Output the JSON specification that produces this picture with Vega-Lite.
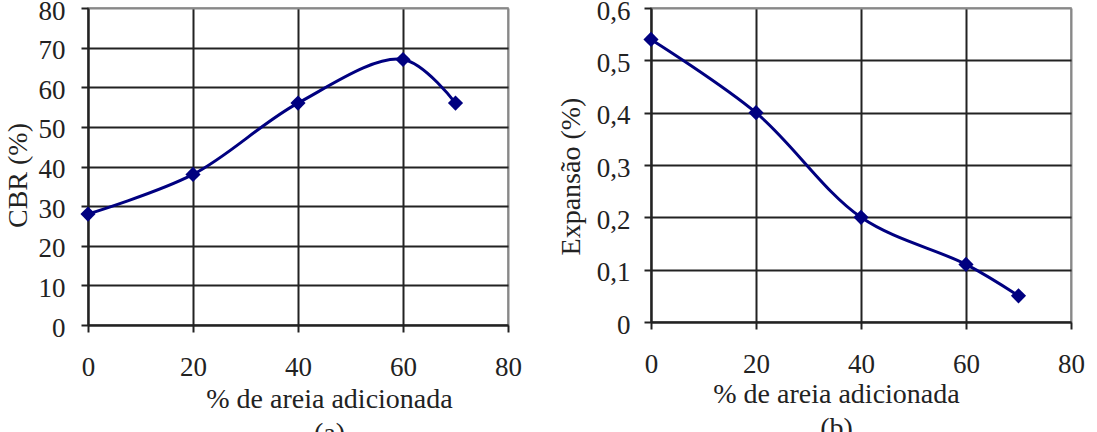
{
  "$schema": "https://vega.github.io/schema/vega-lite/v6.json",
  "background": "white",
  "padding": {"left": 3, "top": -4, "right": 0, "bottom": 0},
  "config": {
    "font": "Liberation Serif",
    "view": {"stroke": "#888888", "strokeWidth": 1.5},
    "axis": {
      "labelFont": "Liberation Serif",
      "titleFont": "Liberation Serif",
      "labelFontSize": 27,
      "titleFontSize": 28,
      "labelColor": "#222222",
      "titleColor": "#222222",
      "titleFontWeight": "normal",
      "domainColor": "#222222",
      "domainWidth": 2,
      "tickColor": "#222222",
      "tickWidth": 2,
      "tickSize": 7,
      "grid": true,
      "gridWidth": 2,
      "gridOpacity": 1
    }
  },
  "spacing": 33,
  "hconcat": [
    {
      "width": 420,
      "height": 317,
      "data": {"values": [
        {"areia": 0, "cbr": 28},
        {"areia": 20, "cbr": 38},
        {"areia": 40, "cbr": 56},
        {"areia": 60, "cbr": 67},
        {"areia": 70, "cbr": 56}
      ]},
      "encoding": {
        "x": {"field": "areia", "type": "quantitative",
          "scale": {"domain": [0, 80], "nice": false},
          "axis": {"values": [0, 20, 40, 60, 80], "labelPadding": 22, "labelFlush": false,
            "title": ["% de areia adicionada", "(a)"], "titlePadding": 5, "titleLineHeight": 34, "titleX": 241,
            "gridColor": {"condition": {"test": "datum.value == 80", "value": "#888888"}, "value": "#222222"}}},
        "y": {"field": "cbr", "type": "quantitative",
          "scale": {"domain": [0, 80], "nice": false},
          "axis": {"values": [0, 10, 20, 30, 40, 50, 60, 70, 80], "labelPadding": 16, "labelOffset": 3,
            "title": "CBR (%)", "titlePadding": 6, "titleY": 167,
            "gridColor": {"condition": {"test": "datum.value == 80", "value": "#888888"}, "value": "#222222"}}}
      },
      "layer": [
        {"mark": {"type": "line", "interpolate": "catmull-rom", "color": "#000080", "strokeWidth": 3}},
        {"mark": {"type": "point", "shape": "diamond", "filled": true, "color": "#000080", "size": 230, "opacity": 1}}
      ]
    },
    {
      "width": 420,
      "height": 314,
      "data": {"values": [
        {"areia": 0, "exp": 0.54},
        {"areia": 20, "exp": 0.40},
        {"areia": 40, "exp": 0.20},
        {"areia": 60, "exp": 0.11},
        {"areia": 70, "exp": 0.05}
      ]},
      "encoding": {
        "x": {"field": "areia", "type": "quantitative",
          "scale": {"domain": [0, 80], "nice": false},
          "axis": {"values": [0, 20, 40, 60, 80], "labelPadding": 22, "labelFlush": false,
            "title": ["% de areia adicionada", "(b)"], "titlePadding": 3, "titleLineHeight": 34, "titleX": 185,
            "gridColor": {"condition": {"test": "datum.value == 80", "value": "#888888"}, "value": "#222222"}}},
        "y": {"field": "exp", "type": "quantitative",
          "scale": {"domain": [0, 0.6], "nice": false},
          "axis": {"values": [0, 0.1, 0.2, 0.3, 0.4, 0.5, 0.6], "labelPadding": 14, "labelOffset": 3,
            "labelExpr": "datum.value == 0 ? '0' : replace(format(datum.value, '.1f'), '.', ',')",
            "title": "Expansão (%)", "titlePadding": 11, "titleY": 168,
            "gridColor": {"condition": {"test": "datum.value > 0.59", "value": "#888888"}, "value": "#222222"}}}
      },
      "layer": [
        {"mark": {"type": "line", "interpolate": "catmull-rom", "color": "#000080", "strokeWidth": 3}},
        {"mark": {"type": "point", "shape": "diamond", "filled": true, "color": "#000080", "size": 230, "opacity": 1}}
      ]
    }
  ]
}
